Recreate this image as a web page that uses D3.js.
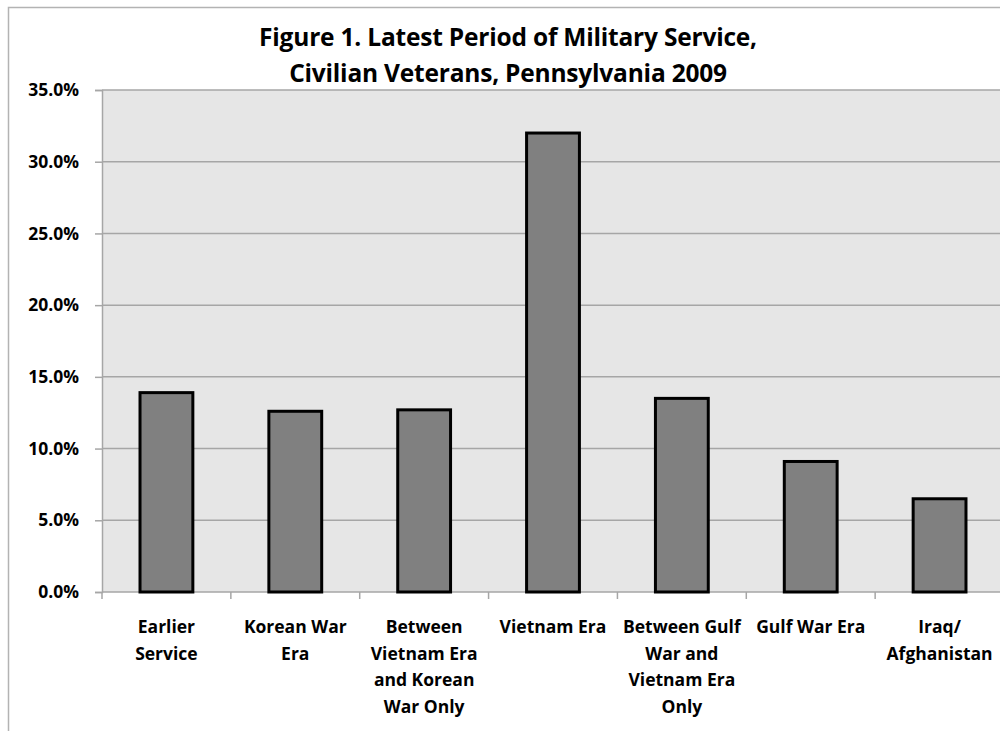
<!DOCTYPE html>
<html>
<head>
<meta charset="utf-8">
<script src="https://cdn.jsdelivr.net/npm/d3@7"></script>
<style>
  body { margin: 0; background: #fff; }
  text { font-family: "Open Sans", Lato, sans-serif; font-weight: bold; fill: #000; }
</style>
</head>
<body>
<div id="chart-area"></div>
<script>
// DATA
// =====

var titleLines = ['Figure 1. Latest Period of Military Service,', 'Civilian Veterans, Pennsylvania 2009'];

var categories = [
    'Earlier\nService',
    'Korean War\nEra',
    'Between\nVietnam Era\nand Korean\nWar Only',
    'Vietnam Era',
    'Between Gulf\nWar and\nVietnam Era\nOnly',
    'Gulf War Era',
    'Iraq/\nAfghanistan'
];

var shares = [13.9, 12.6, 12.7, 32.0, 13.5, 9.1, 6.5];

var yTicks = [0, 5, 10, 15, 20, 25, 30, 35];


// CANVAS + MARGINS
// =================

var margin, width, height, svg, g;

margin = { left: 102, right: -4, top: 90, bottom: 139 };

width = 1000 - margin.left - margin.right;
height = 731 - margin.top - margin.bottom;

svg = d3.select('#chart-area')
    .append('svg')
        .attr('width', 1000)
        .attr('height', 731);

// outer chart border (runs off the picture on the right and bottom)
svg.append('rect')
    .attr('x', 8.5)
    .attr('y', 7.5)
    .attr('width', 1000)
    .attr('height', 740)
    .attr('fill', '#fff')
    .attr('stroke', '#b3b3b3')
    .attr('stroke-width', 1.5);

// TITLE
svg.append('text')
    .attr('x', 508)
    .attr('y', 46)
    .attr('text-anchor', 'middle')
    .attr('font-size', '24.5px')
    .attr('letter-spacing', '-0.2px')
    .selectAll('tspan')
    .data(titleLines)
    .enter()
    .append('tspan')
        .attr('x', 508)
        .attr('dy', (d, i) => i === 0 ? 0 : 35.5)
        .text(d => d);

g = svg.append('g')
    .attr('transform', 'translate(' + margin.left + ', ' + margin.top + ')');


// SCALES
// =======

var x, y;

x = d3.scaleBand()
    .domain(categories)
    .range([0, width])
    .paddingInner(0.59)
    .paddingOuter(0.295);

y = d3.scaleLinear()
    .domain([0, 35])
    .range([height, 0]);

// plot background
g.append('rect')
    .attr('x', 0)
    .attr('y', 0)
    .attr('width', width)
    .attr('height', height)
    .attr('fill', '#e6e6e6');

// gridlines
g.append('g')
    .attr('class', 'grid')
    .selectAll('line')
    .data(yTicks.filter(d => d > 0))
    .enter()
    .append('line')
        .attr('x1', 0)
        .attr('x2', width)
        .attr('y1', d => y(d))
        .attr('y2', d => y(d))
        .attr('stroke', '#a6a6a6')
        .attr('stroke-width', 1.5);


// AXES
// =====

var yAxisCall = d3.axisLeft(y)
    .tickValues(yTicks)
    .tickSize(7)
    .tickPadding(16)
    .tickFormat(d => d.toFixed(1) + '%');

var yAxis = g.append('g')
    .attr('class', 'y-axis')
    .call(yAxisCall);

yAxis.select('.domain')
    .attr('stroke', '#a6a6a6')
    .attr('stroke-width', 1.5);
yAxis.selectAll('.tick line')
    .attr('stroke', '#a6a6a6')
    .attr('stroke-width', 1.5);
yAxis.selectAll('.tick text')
    .attr('font-size', '17.5px')
    .attr('font-family', '"Open Sans", Lato, sans-serif')
    .attr('font-weight', 'bold')
    .attr('fill', '#000');

// x axis: base line and ticks on category boundaries
var xBase = g.append('g')
    .attr('class', 'x axis')
    .attr('transform', 'translate(0,' + height + ')');

xBase.append('line')
    .attr('x1', 0)
    .attr('x2', width)
    .attr('stroke', '#a6a6a6')
    .attr('stroke-width', 1.5);

xBase.selectAll('.xtick')
    .data(categories)
    .enter()
    .append('line')
        .attr('class', 'xtick')
        .attr('x1', d => x(d) - x.step() * x.paddingOuter())
        .attr('x2', d => x(d) - x.step() * x.paddingOuter())
        .attr('y1', 0)
        .attr('y2', 7)
        .attr('stroke', '#a6a6a6')
        .attr('stroke-width', 1.5);

// category labels
xBase.selectAll('.xlabel')
    .data(categories)
    .enter()
    .append('text')
        .attr('class', 'xlabel')
        .attr('text-anchor', 'middle')
        .attr('font-size', '17.5px')
        .each(function (d) {
            var cx = x(d) + x.bandwidth() / 2;
            d3.select(this).selectAll('tspan')
                .data(d.split('\n'))
                .enter()
                .append('tspan')
                    .attr('x', cx)
                    .attr('y', (l, i) => 41 + i * 26.7)
                    .text(l => l);
        });


// BARS
// =====

g.selectAll('.bar')
    .data(shares)
    .enter()
    .append('rect')
        .attr('class', 'bar')
        .attr('x', (d, i) => x(categories[i]))
        .attr('y', d => y(d))
        .attr('width', x.bandwidth())
        .attr('height', d => height - y(d))
        .attr('fill', '#808080')
        .attr('stroke', '#000')
        .attr('stroke-width', 3);
</script>
</body>
</html>
